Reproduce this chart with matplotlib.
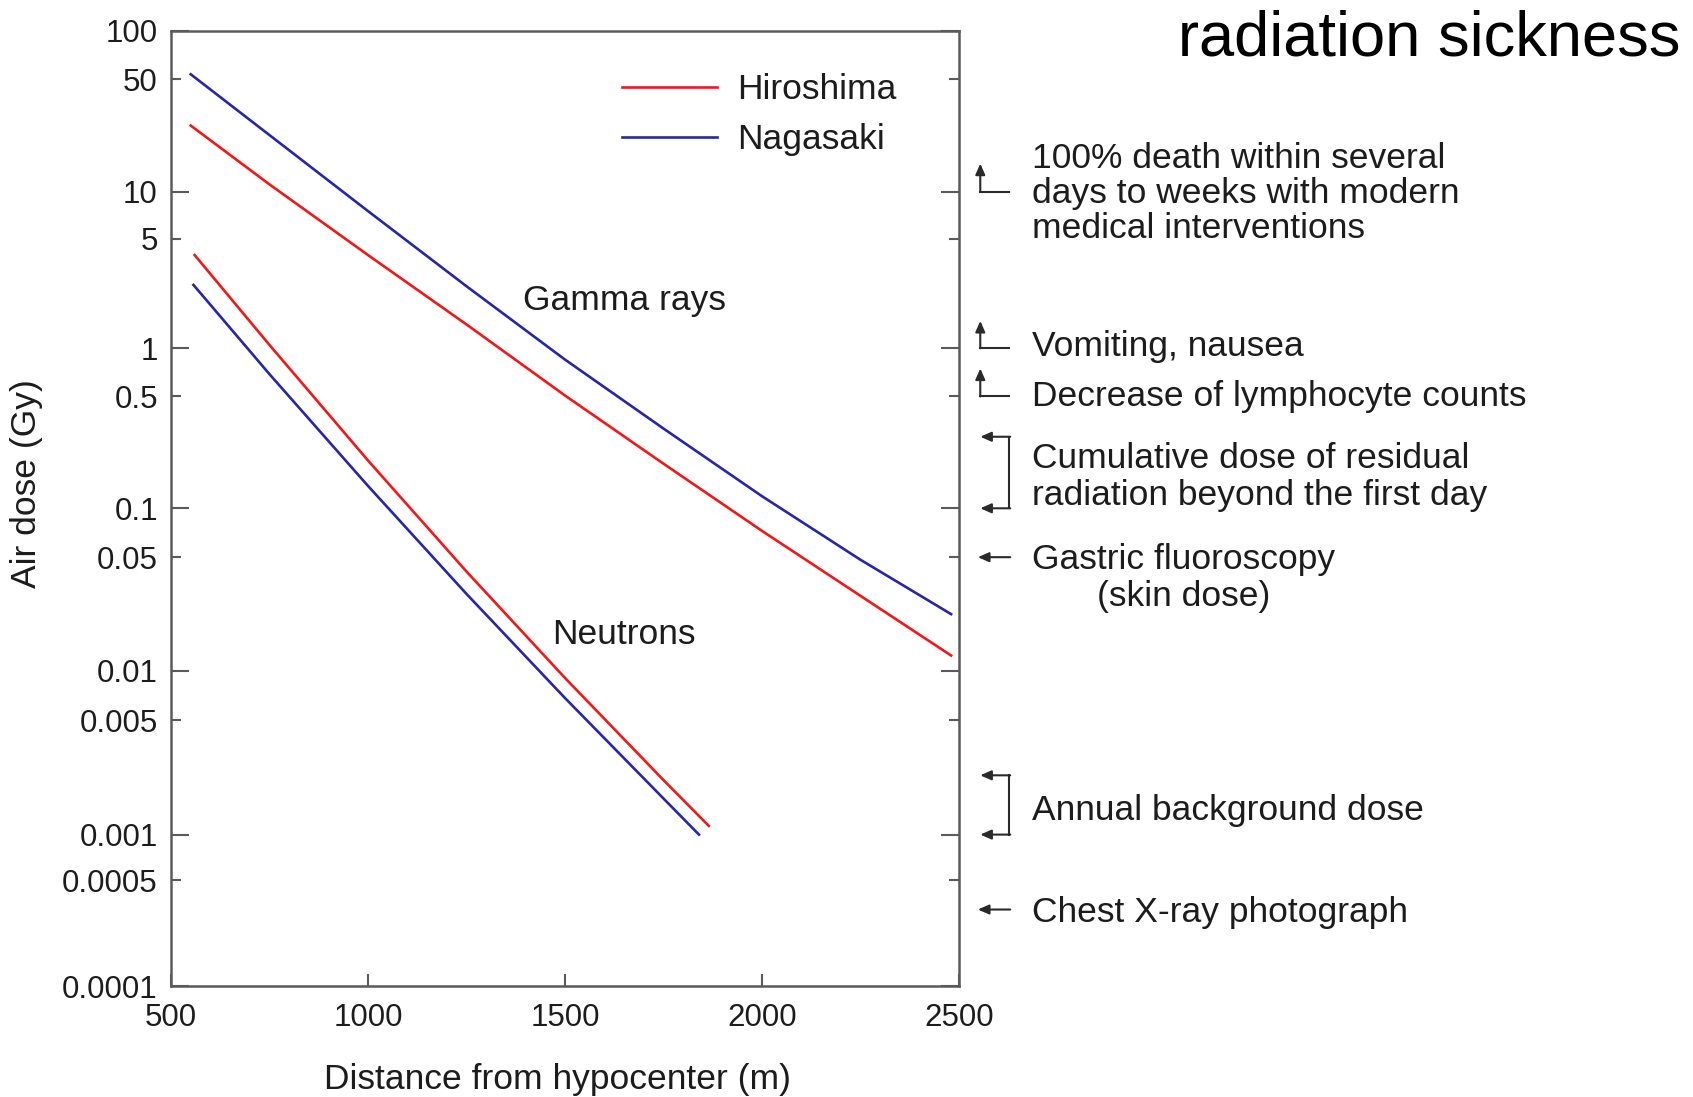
import numpy as np
import matplotlib
matplotlib.use("Agg")
import matplotlib.pyplot as plt
import matplotlib.transforms as mtransforms

plt.rcParams['font.family'] = ['Liberation Sans', 'DejaVu Sans']

# ---- data (distance in m, air dose in Gy) ----
gamma_x = [550, 750, 1000, 1250, 1500, 1750, 2000, 2250, 2480]
gamma_hiroshima = [25.8, 11.1, 3.94, 1.42, 0.507, 0.190, 0.0726, 0.0289, 0.0124]
gamma_nagasaki = [53.8, 22.5, 7.52, 2.49, 0.85, 0.315, 0.119, 0.0482, 0.0223]

neutron_x_hiroshima = [560, 750, 1000, 1250, 1500, 1750, 1865]
neutron_hiroshima = [3.94, 1.05, 0.199, 0.0408, 0.00903, 0.00215, 0.00113]
neutron_x_nagasaki = [557, 750, 1000, 1250, 1500, 1750, 1840]
neutron_nagasaki = [2.54, 0.689, 0.138, 0.0297, 0.00681, 0.00166, 0.00100]

y_major = [1e-4, 1e-3, 1e-2, 1e-1, 1, 10, 100]
y_major_labels = ['0.0001', '0.001', '0.01', '0.1', '1', '10', '100']
y_minor = [5e-4, 5e-3, 5e-2, 0.5, 5, 50]
y_minor_labels = ['0.0005', '0.005', '0.05', '0.5', '5', '50']
x_ticks = [500, 1000, 1500, 2000, 2500]

# reference levels on the right-hand side
up_levels = [10, 1, 0.5]
up_texts = ['100% death within several\ndays to weeks with modern\nmedical interventions',
            'Vomiting, nausea',
            'Decrease of lymphocyte counts']
bracket_levels = [(0.1, 0.28), (0.001, 0.0023)]
bracket_texts = ['Cumulative dose of residual\nradiation beyond the first day',
                 'Annual background dose']
left_levels = [0.05, 0.00032]
left_texts = ['Gastric fluoroscopy\n(skin dose)', 'Chest X-ray photograph']

RED = '#f01818'
BLUE = '#2626a8'
SPINE = '#5a5a5a'
INK = '#1c1c1c'
ARROW = '#2a2a2a'
FS = 25.5

# the printed log axis is not quite even: decade heights (px) as drawn
DECADE_LOGS = [-4, -3, -2, -1, 0, 1, 2]
DECADE_POS = [0, 151.4, 315.3, 477.7, 637.7, 794.3, 955]


def fwd(v):
    return np.interp(np.log10(np.clip(v, 1e-12, None)), DECADE_LOGS, DECADE_POS)


def inv(u):
    return 10 ** np.interp(u, DECADE_POS, DECADE_LOGS)


fig = plt.figure(figsize=(16.93, 10.97), dpi=100)
ax = fig.add_axes([171 / 1693, 111 / 1097, 788 / 1693, 955 / 1097])

ax.plot(gamma_x, gamma_hiroshima, color=RED, lw=1.9, label='Hiroshima')
ax.plot(gamma_x, gamma_nagasaki, color=BLUE, lw=1.9, label='Nagasaki')
ax.plot(neutron_x_hiroshima, neutron_hiroshima, color=RED, lw=1.9)
ax.plot(neutron_x_nagasaki, neutron_nagasaki, color=BLUE, lw=1.9)

ax.set_yscale('function', functions=(fwd, inv))
ax.set_xlim(500, 2500)
ax.set_ylim(1e-4, 100)
ax.set_xticks(x_ticks, labels=[str(v) for v in x_ticks])
ax.set_yticks(y_major, labels=y_major_labels)
ax.set_yticks(y_minor, labels=y_minor_labels, minor=True)

for s in ax.spines.values():
    s.set_color(SPINE)
    s.set_linewidth(1.8)
ax.tick_params(axis='y', which='both', direction='in', left=True, right=True,
               color=SPINE, width=1.5, labelsize=22.5, pad=9.5, labelcolor=INK)
ax.tick_params(axis='y', which='major', length=13)
ax.tick_params(axis='y', which='minor', length=7)
ax.tick_params(axis='x', which='both', direction='in', length=9, color=SPINE,
               width=1.5, labelsize=22.5, pad=12.5, labelcolor=INK)

ax.set_xlabel('Distance from hypocenter (m)', fontsize=FS, color=INK, va='center')
ax.xaxis.set_label_coords(0.491, -0.0984)
ax.set_ylabel('Air dose (Gy)', fontsize=FS, color=INK, va='center')
ax.yaxis.set_label_coords(-0.183, 0.526)

ax.text(1650, 2.03, 'Gamma rays', fontsize=FS, color=INK, ha='center', va='center')
ax.text(1650, 0.0166, 'Neutrons', fontsize=FS, color=INK, ha='center', va='center')

leg = ax.legend(loc='upper left', bbox_to_anchor=(0.572, 0.956), frameon=False,
                fontsize=FS, handlelength=2.7, handletextpad=0.56,
                labelspacing=0.48, borderpad=0, borderaxespad=0)
for t in leg.get_texts():
    t.set_color(INK)

# right-hand annotations (x in axes fraction, y in Gy)
trans = mtransforms.blended_transform_factory(ax.transAxes, ax.transData)
x0, x1, xt = 1.027, 1.064, 1.093
arrow_kw = dict(arrowstyle='-|>,head_length=0.5,head_width=0.22', color=ARROW,
                lw=1.5, shrinkA=0, shrinkB=0, mutation_scale=13)


def note(txt, level, dy, spacing=1.08):
    ax.annotate(txt, xy=(xt, level), xycoords=trans, xytext=(0, dy),
                textcoords='offset points', fontsize=FS, color=INK,
                va='center', ha='left', multialignment='center' if '(' in txt else 'left',
                linespacing=spacing, annotation_clip=False)


for lvl, txt, dy in zip(up_levels, up_texts, [-1.5, 1, 0]):
    ax.plot([x1, x0], [lvl, lvl], transform=trans, clip_on=False, color=ARROW, lw=1.5)
    ax.annotate('', xy=(x0, lvl * 10 ** 0.175), xycoords=trans,
                xytext=(x0, lvl), textcoords=trans, arrowprops=arrow_kw)
    note(txt, lvl, dy, 1.08)

for (lo, hi), txt, dy in zip(bracket_levels, bracket_texts, [-3, -4]):
    ax.plot([x1, x1], [lo, hi], transform=trans, clip_on=False, color=ARROW, lw=1.5)
    for lvl in (lo, hi):
        ax.annotate('', xy=(x0, lvl), xycoords=trans, xytext=(x1 + 0.001, lvl),
                    textcoords=trans, arrowprops=arrow_kw)
    note(txt, np.sqrt(lo * hi), dy, 1.14)

for lvl, txt, dy in zip(left_levels, left_texts, [-15, -2]):
    ax.annotate('', xy=(x0 - 0.003, lvl), xycoords=trans, xytext=(x1 + 0.001, lvl),
                textcoords=trans, arrowprops=arrow_kw)
    note(txt, lvl, dy, 1.18)

fig.text(1178 / 1693, 1 - 55 / 1097, 'radiation sickness', fontsize=45.5,
         color='black', ha='left', va='baseline')

fig.savefig('out.png', dpi=100)
